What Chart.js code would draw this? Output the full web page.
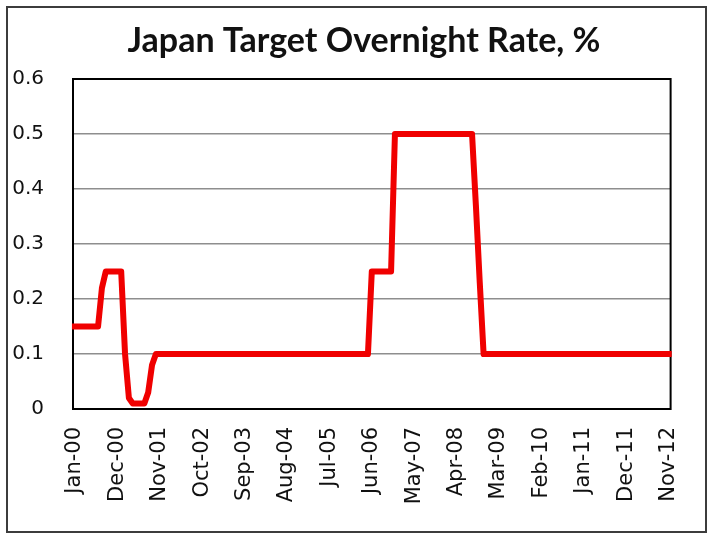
<!DOCTYPE html>
<html>
<head>
<meta charset="utf-8">
<script src="https://cdn.jsdelivr.net/npm/chart.js@4"></script>
<style>
  html, body { margin: 0; padding: 0; background: #fff; }
  #chart { display: block; }
</style>
</head>
<body>
<canvas id="chart" width="712" height="538"></canvas>
<script>
// ─── Data ─────────────────────────────────────────────
const TITLE = 'Japan Target Overnight Rate, %'

const monthNames = ['Jan', 'Feb', 'Mar', 'Apr', 'May', 'Jun', 'Jul', 'Aug', 'Sep', 'Oct', 'Nov', 'Dec']
const years      = ['00', '01', '02', '03', '04', '05', '06', '07', '08', '09', '10', '11', '12']

// monthly rate, Jan-00 .. Nov-12 (one row per year)
const rate = [
  0.15, 0.15, 0.15, 0.15, 0.15, 0.15, 0.15, 0.22, 0.25, 0.25, 0.25, 0.25, // 2000
  0.25, 0.10, 0.02, 0.01, 0.01, 0.01, 0.01, 0.03, 0.08, 0.10, 0.10, 0.10, // 2001
  0.10, 0.10, 0.10, 0.10, 0.10, 0.10, 0.10, 0.10, 0.10, 0.10, 0.10, 0.10, // 2002
  0.10, 0.10, 0.10, 0.10, 0.10, 0.10, 0.10, 0.10, 0.10, 0.10, 0.10, 0.10, // 2003
  0.10, 0.10, 0.10, 0.10, 0.10, 0.10, 0.10, 0.10, 0.10, 0.10, 0.10, 0.10, // 2004
  0.10, 0.10, 0.10, 0.10, 0.10, 0.10, 0.10, 0.10, 0.10, 0.10, 0.10, 0.10, // 2005
  0.10, 0.10, 0.10, 0.10, 0.10, 0.25, 0.25, 0.25, 0.25, 0.25, 0.25, 0.50, // 2006
  0.50, 0.50, 0.50, 0.50, 0.50, 0.50, 0.50, 0.50, 0.50, 0.50, 0.50, 0.50, // 2007
  0.50, 0.50, 0.50, 0.50, 0.50, 0.50, 0.50, 0.50, 0.37, 0.23, 0.10, 0.10, // 2008
  0.10, 0.10, 0.10, 0.10, 0.10, 0.10, 0.10, 0.10, 0.10, 0.10, 0.10, 0.10, // 2009
  0.10, 0.10, 0.10, 0.10, 0.10, 0.10, 0.10, 0.10, 0.10, 0.10, 0.10, 0.10, // 2010
  0.10, 0.10, 0.10, 0.10, 0.10, 0.10, 0.10, 0.10, 0.10, 0.10, 0.10, 0.10, // 2011
  0.10, 0.10, 0.10, 0.10, 0.10, 0.10, 0.10, 0.10, 0.10, 0.10, 0.10        // 2012
]

const xTickLabels = ['Jan-00', 'Dec-00', 'Nov-01', 'Oct-02', 'Sep-03', 'Aug-04', 'Jul-05', 'Jun-06',
                     'May-07', 'Apr-08', 'Mar-09', 'Feb-10', 'Jan-11', 'Dec-11', 'Nov-12']
const yTickLabels = ['0', '0.1', '0.2', '0.3', '0.4', '0.5', '0.6']

// category labels, one per month
const labels = rate.map((_, i) => `${monthNames[i % 12]}-${years[Math.floor(i / 12)]}`)

// ─── Plugins ──────────────────────────────────────────
// outer frame, plot border and the title (title sits a bit right of centre, as in the original)
const frame = {
  id: 'frame',
  beforeDraw(chart) {
    const c = chart.ctx
    c.save()
    c.fillStyle = '#fff'
    c.fillRect(0, 0, chart.width, chart.height)
    c.strokeStyle = '#3c3c3c'
    c.lineWidth = 2
    c.strokeRect(7, 7, 699, 525)
    c.restore()
  },
  beforeDatasetsDraw(chart) {
    const { left, top, width, height } = chart.chartArea
    const c = chart.ctx
    c.save()
    c.strokeStyle = '#000'
    c.lineWidth = 2
    c.strokeRect(left, top, width, height)
    c.restore()
  },
  afterDraw(chart) {
    const c = chart.ctx
    c.save()
    c.font = 'bold 34px Lato, "Open Sans", sans-serif'
    c.fillStyle = '#111'
    c.textAlign = 'center'
    c.textBaseline = 'alphabetic'
    c.fillText(TITLE, 364, 52)
    c.restore()
  }
}

// ─── Chart ────────────────────────────────────────────
const yFont = { family: '"DejaVu Sans", Verdana, sans-serif', size: 20 }
const xFont = { family: '"DejaVu Sans", Verdana, sans-serif', size: 21 }

new Chart(document.getElementById('chart'), {
  type: 'line',
  data: {
    labels,
    datasets: [{
      label: 'Rate',
      data: rate,
      yAxisID: 'y',
      borderColor: '#f00000',
      borderWidth: 6,
      borderJoinStyle: 'round',
      borderCapStyle: 'square',
      pointRadius: 0,
      tension: 0,
      fill: false
    }]
  },
  options: {
    responsive: false,
    animation: false,
    devicePixelRatio: 1,
    layout: { padding: { left: 0, right: 0, top: 79, bottom: 0 } },
    plugins: {
      legend: { display: false },
      tooltip: { enabled: false },
      title: { display: false }
    },
    scales: {
      x: {
        type: 'category',
        offset: true,
        grid: { display: false, drawTicks: false },
        border: { display: false },
        ticks: {
          autoSkip: false,
          minRotation: 90,
          maxRotation: 90,
          padding: 18,
          color: '#111',
          font: xFont,
          callback: (v, i) => xTickLabels.includes(labels[i]) ? labels[i] : null
        },
        afterFit: s => { s.height = 129 }
      },
      y: {
        position: 'left',
        min: 0,
        max: 0.6,
        ticks: {
          stepSize: 0.1,
          padding: 29,
          color: '#111',
          font: yFont,
          callback: (v, i) => yTickLabels[i]
        },
        grid: { color: '#8e8e8e', lineWidth: 1.5, drawTicks: false },
        border: { display: false },
        afterFit: s => { s.width = 73 }
      },
      y2: {
        position: 'right',
        display: true,
        ticks: { display: false },
        grid: { display: false, drawTicks: false },
        border: { display: false },
        afterFit: s => { s.width = 39 }
      }
    }
  },
  plugins: [frame]
})
</script>
</body>
</html>
